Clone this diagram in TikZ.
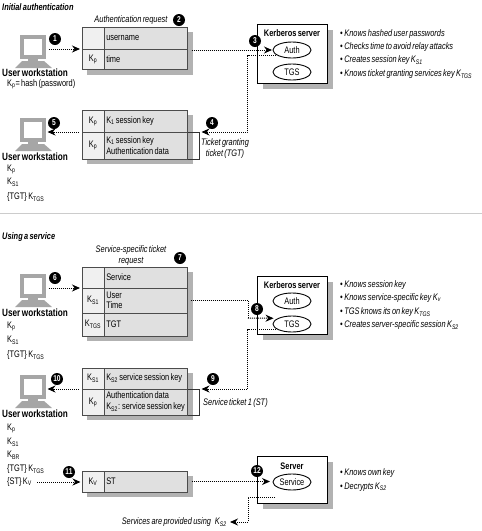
\documentclass[tikz,border=0pt]{standalone}
\usepackage{fontspec}
\setmainfont{Liberation Sans}[FakeStretch=0.78, WordSpace=0.65]
\usetikzlibrary{arrows.meta, shapes.geometric}

\tikzset{
  monitor/.pic = {
    \fill[black!35] (9,23) rectangle (19,27);
    \fill[black!35] (3,26) -- (25,26) -- (33,33) -- (-4,33) -- cycle;
    \node[screenbox] (-screen) at (13.5,12) {};
  }
}

\begin{document}
\begin{tikzpicture}[
    x=1pt, y=-1pt,
    font=\fontsize{9.5}{10}\selectfont,
    screenbox/.style = {rectangle, draw=black!35, fill=white, line width=4pt, minimum width=22pt, minimum height=20pt, inner sep=0pt, outer sep=0pt},
    backing/.style = {rectangle, anchor=north west, fill=black!30, inner sep=0pt, outer sep=0pt},
    msg/.style   = {rectangle, anchor=north west, draw=black!70, fill=black!12, line width=0.8pt, inner sep=0pt, outer sep=0pt},
    kcell/.style = {rectangle, anchor=north west, draw=black!70, fill=black!6, line width=0.7pt, minimum width=22pt, inner sep=0pt, outer sep=0pt},
    bcell/.style = {rectangle, anchor=north west, draw=black!70, fill=black!12, line width=0.7pt, minimum width=83.5pt, text width=79pt,
                    inner xsep=2.25pt, inner ysep=0pt, outer sep=0pt, align=flush left},
    server/.style = {rectangle, anchor=north west, draw=black, fill=white, line width=0.9pt, minimum width=70pt, inner sep=0pt, outer sep=0pt},
    proc/.style  = {ellipse, draw=black, fill=white, line width=0.9pt, minimum width=38pt, minimum height=16pt, inner sep=0pt, outer sep=0pt},
    flow/.style  = {-{Stealth[length=8pt, width=7pt]}, line width=1pt, dash pattern=on 1pt off 1pt},
    plain/.style = {line width=1pt, dash pattern=on 1pt off 1pt},
    tie/.style   = {draw=black!80, line width=0.5pt},
    dot/.style   = {circle, fill=black, text=white, minimum size=12pt, inner sep=0pt, font=\fontsize{8.5}{9}\selectfont\bfseries},
    head/.style  = {anchor=west, inner sep=0pt, font=\fontsize{9.5}{10}\selectfont\bfseries\itshape},
    who/.style   = {anchor=west, inner sep=0pt, font=\fontsize{10.5}{11}\selectfont\bfseries},
    held/.style  = {anchor=west, inner sep=0pt},
    note/.style  = {inner sep=0pt, align=flush center, font=\fontsize{9.5}{10.5}\selectfont\itshape},
    fact/.style  = {anchor=west, inner sep=0pt, font=\fontsize{9.5}{10}\selectfont\itshape}
  ]
  \useasboundingbox (0,0) rectangle (482,531);

  % --- section headings ---
  \node[head] (headA) at (2,7) {Initial authentication};
  \node[head] (headB) at (2,237) {Using a service};
  \coordinate (sepL) at (0,213);
  \coordinate (sepR) at (482,213);
  \draw[black!20, line width=1pt] (sepL) -- (sepR);

  % --- workstations ---
  \pic (wsA) at (19,35) {monitor};
  \pic (wsB) at (19,118) {monitor};
  \pic (wsC) at (19,274) {monitor};
  \pic (wsD) at (19,375) {monitor};

  \node[who] (whoA) at (2,73) {User workstation};
  \node[held] (whoAa) at (7,84) {K\textsubscript{p}= hash (password)};

  \node[who] (whoB) at (2,157) {User workstation};
  \node[held] (whoBa) at (7,169) {K\textsubscript{p}};
  \node[held] (whoBb) at (7,182) {K\textsubscript{S1}};
  \node[held] (whoBc) at (7,197) {\{TGT\} K\textsubscript{TGS}};

  \node[who] (whoC) at (2,313) {User workstation};
  \node[held] (whoCa) at (7,326) {K\textsubscript{p}};
  \node[held] (whoCb) at (7,340) {K\textsubscript{S1}};
  \node[held] (whoCc) at (7,355) {\{TGT\} K\textsubscript{TGS}};

  \node[who] (whoD) at (2,414) {User workstation};
  \node[held] (whoDa) at (7,428) {K\textsubscript{p}};
  \node[held] (whoDb) at (7,442) {K\textsubscript{S1}};
  \node[held] (whoDc) at (7,455) {K\textsubscript{BR}};
  \node[held] (whoDd) at (7,469) {\{TGT\} K\textsubscript{TGS}};
  \node[held] (whoDe) at (7,482) {\{ST\} K\textsubscript{V}};

  % --- authentication request ---
  \node[backing, minimum width=105.5pt, minimum height=42.5pt] (reqAs) at (87,32) {};
  \node[msg, minimum width=105.5pt, minimum height=42.5pt] (reqA) at (82,27) {};
  \node[kcell, minimum height=22pt] (reqAk) at (82,27) {};
  \node[bcell, minimum height=22pt] (reqAb) at (104,27) {username};
  \node[kcell, minimum height=20.5pt] (reqAl) at (82,49) {K\textsubscript{p}};
  \node[bcell, minimum height=20.5pt] (reqAc) at (104,49) {time};

  % --- ticket granting reply ---
  \node[backing, minimum width=105.5pt, minimum height=49pt] (repAs) at (87,115) {};
  \node[msg, minimum width=105.5pt, minimum height=49pt] (repA) at (82,110) {};
  \node[kcell, minimum height=22pt] (repAk) at (82,110) {K\textsubscript{p}};
  \node[bcell, minimum height=22pt] (repAb) at (104,110) {K\textsubscript{1} session key};
  \node[kcell, minimum height=27pt] (repAl) at (82,132) {K\textsubscript{p}};
  \node[bcell, minimum height=27pt] (repAc) at (104,132) {K\textsubscript{1} session key\\[1pt]Authentication data};

  % --- service ticket request ---
  \node[backing, minimum width=105.5pt, minimum height=69pt] (reqBs) at (87,272) {};
  \node[msg, minimum width=105.5pt, minimum height=69pt] (reqB) at (82,267) {};
  \node[kcell, minimum height=21pt] (reqBk) at (82,267) {};
  \node[bcell, minimum height=21pt] (reqBb) at (104,267) {Service};
  \node[kcell, minimum height=25pt] (reqBl) at (82,288) {K\textsubscript{S1}};
  \node[bcell, minimum height=25pt] (reqBc) at (104,288) {User\\Time};
  \node[kcell, minimum height=23pt] (reqBm) at (82,313) {K\textsubscript{TGS}};
  \node[bcell, minimum height=23pt] (reqBd) at (104,313) {TGT};

  % --- service ticket reply ---
  \node[backing, minimum width=105.5pt, minimum height=47pt] (repBs) at (87,373) {};
  \node[msg, minimum width=105.5pt, minimum height=47pt] (repB) at (82,368) {};
  \node[kcell, minimum height=21pt] (repBk) at (82,368) {K\textsubscript{S1}};
  \node[bcell, minimum height=21pt] (repBb) at (104,368) {K\textsubscript{S2} service session key};
  \node[kcell, minimum height=26pt] (repBl) at (82,389) {K\textsubscript{p}};
  \node[bcell, minimum height=26pt] (repBc) at (104,389) {Authentication data\\[1pt]K\textsubscript{S2}: service session key};

  % --- ticket sent to the server ---
  \node[backing, minimum width=105.5pt, minimum height=21pt] (reqCs) at (87,476) {};
  \node[msg, minimum width=105.5pt, minimum height=21pt] (reqC) at (82,471) {};
  \node[kcell, minimum height=21pt] (reqCk) at (82,471) {K\textsubscript{V}};
  \node[bcell, minimum height=21pt] (reqCb) at (104,471) {ST};

  % --- servers ---
  \node[backing, minimum width=70pt, minimum height=59pt] (kdcAs) at (263,30) {};
  \node[server, minimum height=59pt] (kdcA) at (257,24) {};
  \node[inner sep=0pt, font=\fontsize{9.5}{10}\selectfont\bfseries] (kdcAt) at (292,33) {Kerberos server};
  \node[proc] (authA) at (292,50) {Auth};
  \node[proc] (tgsA) at (292,72) {TGS};

  \node[backing, minimum width=70pt, minimum height=58pt] (kdcBs) at (263,282) {};
  \node[server, minimum height=58pt] (kdcB) at (257,276) {};
  \node[inner sep=0pt, font=\fontsize{9.5}{10}\selectfont\bfseries] (kdcBt) at (292,285) {Kerberos server};
  \node[proc] (authB) at (292,301) {Auth};
  \node[proc] (tgsB) at (292,324) {TGS};

  \node[backing, minimum width=70pt, minimum height=47pt] (srvCs) at (263,462) {};
  \node[server, minimum height=47pt] (srvC) at (257,456) {};
  \node[inner sep=0pt, font=\fontsize{9.5}{10}\selectfont\bfseries] (srvCt) at (292,466) {Server};
  \node[proc] (svcC) at (292,482) {Service};

  % --- captions ---
  \node[note] (capA) at (131,20) {Authentication request};
  \node[note] (capB) at (225,148.5) {Ticket granting\\ticket (TGT)};
  \node[note] (capC) at (131,255.5) {Service-specific ticket\\request};
  \node[note, anchor=west] (capD) at (203,403) {Service ticket 1 (ST)};
  \node[note, anchor=east] (capE) at (227,522) {Services are provided using\; K\textsubscript{S2}};

  % --- what each side knows ---
  \node[fact] (factAa) at (340,34) {\textbullet\,Knows hashed user passwords};
  \node[fact] (factAb) at (340,47) {\textbullet\,Checks time to avoid relay attacks};
  \node[fact] (factAc) at (340,60) {\textbullet\,Creates session key K\textsubscript{S1}};
  \node[fact] (factAd) at (340,74) {\textbullet\,Knows ticket granting services key K\textsubscript{TGS}};

  \node[fact] (factBa) at (340,285) {\textbullet\,Knows session key};
  \node[fact] (factBb) at (340,298) {\textbullet\,Knows service-specific key K\textsubscript{v}};
  \node[fact] (factBc) at (340,312) {\textbullet\,TGS knows its on key K\textsubscript{TGS}};
  \node[fact] (factBd) at (340,325) {\textbullet\,Creates server-specific session K\textsubscript{S2}};

  \node[fact] (factCa) at (340,473) {\textbullet\,Knows own key};
  \node[fact] (factCb) at (340,487) {\textbullet\,Decrypts K\textsubscript{S2}};

  % --- brackets joining a ticket to its reply row ---
  \draw[tie] (repAc.north east) -- ++(12,0) |- (repAc.south east);
  \draw[tie] (repBc.north east) -- ++(12,0) |- (repBc.south east);

  % --- first exchange ---
  \coordinate (bendA) at (247.5,132);
  \draw[flow, shorten <=5pt, shorten >=2pt] (wsA-screen.east |- reqAc.north west) -- (reqAc.north west -| reqA.west);
  \draw[flow, shorten <=4pt, shorten >=1pt] (reqA.east |- authA.west) -- (authA.west);
  \draw[flow, shorten <=3pt, shorten >=14pt] (authA.south west) -| (bendA) -- (repAc.north east);
  \draw[flow, shorten <=3pt, shorten >=4pt] (repAl.north west) -- (wsB-screen.east |- repAl.north west);

  % --- second exchange ---
  \coordinate (bendB) at (248,318);
  \coordinate (bendC) at (247.5,389);
  \draw[flow, shorten <=5pt, shorten >=2pt] (wsC-screen.east |- reqBl.north west) -- (reqBl.north west);
  \draw[plain, shorten <=3pt] (reqBc.east) -| (bendB);
  \draw[flow, shorten >=5pt] (bendB) -- (tgsB.north west);
  \draw[flow, shorten <=3pt, shorten >=14pt] (tgsB.south west) -| (bendC) -- (repBc.north east);
  \draw[flow, shorten <=3pt, shorten >=4pt] (repBl.north west) -- (wsD-screen.east |- repBl.north west);

  % --- third exchange ---
  \coordinate (svcOut) at (275,497);
  \coordinate (bendD) at (248,522);
  \draw[flow, shorten <=5pt, shorten >=1.5pt] (whoDe.east) -- (reqC.west |- whoDe.east);
  \draw[flow, shorten <=4pt, shorten >=3pt] (reqC.east) -- (reqC.east -| svcC.west);
  \draw[flow, shorten >=3pt] (svcOut) -| (bendD) -- (capE.east);

  % --- step numbers ---
  \node[dot] (stepA) at (55,39) {1};
  \node[dot] (stepB) at (179,20) {2};
  \node[dot] (stepC) at (255,41) {3};
  \node[dot] (stepD) at (212,123) {4};
  \node[dot] (stepE) at (54,123) {5};
  \node[dot] (stepF) at (55,278) {6};
  \node[dot] (stepG) at (180,258) {7};
  \node[dot] (stepH) at (257,309) {8};
  \node[dot] (stepI) at (213,379) {9};
  \node[dot] (stepJ) at (57,379) {10};
  \node[dot] (stepK) at (69,472) {11};
  \node[dot] (stepL) at (257,471) {12};

\end{tikzpicture}
\end{document}
